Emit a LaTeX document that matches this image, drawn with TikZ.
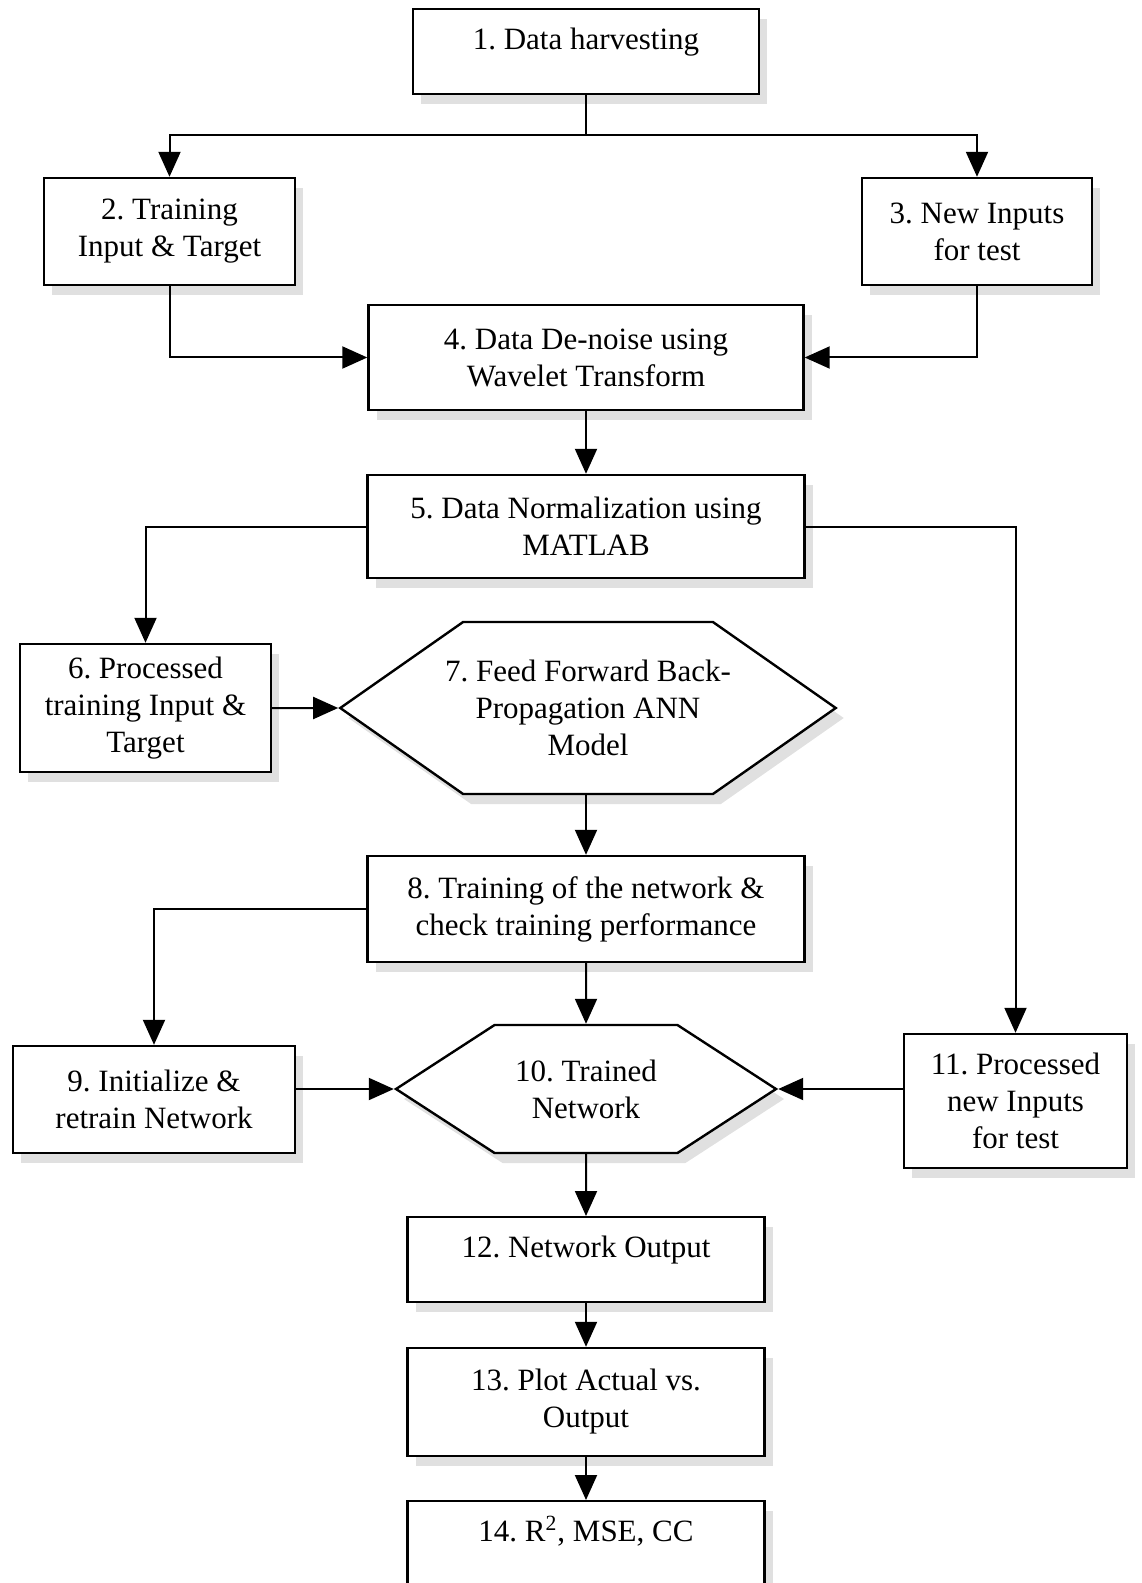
\documentclass[tikz,border=0pt]{standalone}
\usepackage{xcolor}
\usepackage{fontspec}
\setmainfont{Liberation Serif}
\usetikzlibrary{arrows.meta,shapes.symbols,shadows}
\definecolor{flowshadow}{gray}{0.88}
\frenchspacing

\begin{document}
\begin{tikzpicture}[x=0.5pt,y=-0.5pt,
  every node/.style={font=\fontsize{15.5}{18.5}\selectfont,align=center},
  stage/.style={draw,line width=1.2pt,fill=white,inner sep=2pt,
    drop shadow={shadow xshift=4pt,shadow yshift=-5pt,fill=flowshadow,opacity=1}},
  topstage/.style={stage,anchor=north,inner ysep=0pt,text height=20pt,text depth=22.5pt},
  annbox/.style={stage,shape=signal,signal to=west and east},
  link/.style={line width=1pt},
  flow/.style={link,-{Triangle[length=12.5pt,width=11pt]}}]
  \useasboundingbox (0,0) rectangle (1141,1583);

  % stages
  \node[topstage,minimum width=173pt] (box1) at (586,8) {1. Data harvesting};
  \node[stage,minimum width=125.5pt,minimum height=53.5pt] (box2) at (169.5,231.5) {2. Training\\Input \& Target};
  \node[stage,minimum width=115pt,minimum height=53.5pt] (box3) at (977,231.5) {3. New Inputs\\for test};
  \node[stage,minimum width=217.5pt,minimum height=52.5pt] (box4) at (586,357.5) {4. Data De-noise using\\Wavelet Transform};
  \node[stage,minimum width=218.5pt,minimum height=51.5pt] (box5) at (586,526.5) {5. Data Normalization using\\MATLAB};
  \node[stage,minimum width=125.5pt,minimum height=64pt] (box6) at (145.5,708) {6. Processed\\training Input \&\\Target};
  \node[annbox,inner xsep=-9pt,minimum height=86pt,signal pointer angle=70] (hex7) at (588,708) {7. Feed Forward Back-\\Propagation ANN\\Model};
  \node[stage,minimum width=218.5pt,minimum height=53pt] (box8) at (586,909) {8. Training of the network \&\\check training performance};
  \node[stage,minimum width=141pt,minimum height=53.5pt] (box9) at (154,1099.5) {9. Initialize \&\\retrain Network};
  \node[annbox,minimum width=190pt,minimum height=64pt,signal pointer angle=66] (hex10) at (586,1089) {10. Trained\\Network};
  \node[stage,minimum width=111.5pt,minimum height=67pt] (box11) at (1015.5,1101) {11. Processed\\new Inputs\\for test};
  \node[topstage,minimum width=178.5pt] (box12) at (586,1216) {12. Network Output};
  \node[stage,minimum width=178.5pt,minimum height=54pt] (box13) at (586,1402) {13. Plot Actual vs.\\Output};
  \node[topstage,minimum width=178.5pt] (box14) at (586,1500) {14. R\textsuperscript{2}, MSE, CC};

  % connectors
  \coordinate (split) at (586,135);
  \draw[link] (box1) -- (split);
  \draw[flow] (split) -| (box2);
  \draw[flow] (split) -| (box3);
  \draw[flow] (box2) |- (box4);
  \draw[flow] (box3) |- (box4);
  \draw[flow] (box4) -- (box5);
  \draw[flow] (box5) -| (box6);
  \draw[flow] (box5) -| (box11);
  \draw[flow] (box6) -- (hex7);
  \draw[flow] (hex7.south -| box8.north) -- (box8);
  \draw[flow] (box8) -| (box9);
  \draw[flow] (box8) -- (hex10);
  \draw[flow] (hex10.west -| box9.east) -- (hex10.west);
  \draw[flow] (hex10.east -| box11.west) -- (hex10.east);
  \draw[flow] (hex10) -- (box12);
  \draw[flow] (box12) -- (box13);
  \draw[flow] (box13) -- (box14);
\end{tikzpicture}
\end{document}
